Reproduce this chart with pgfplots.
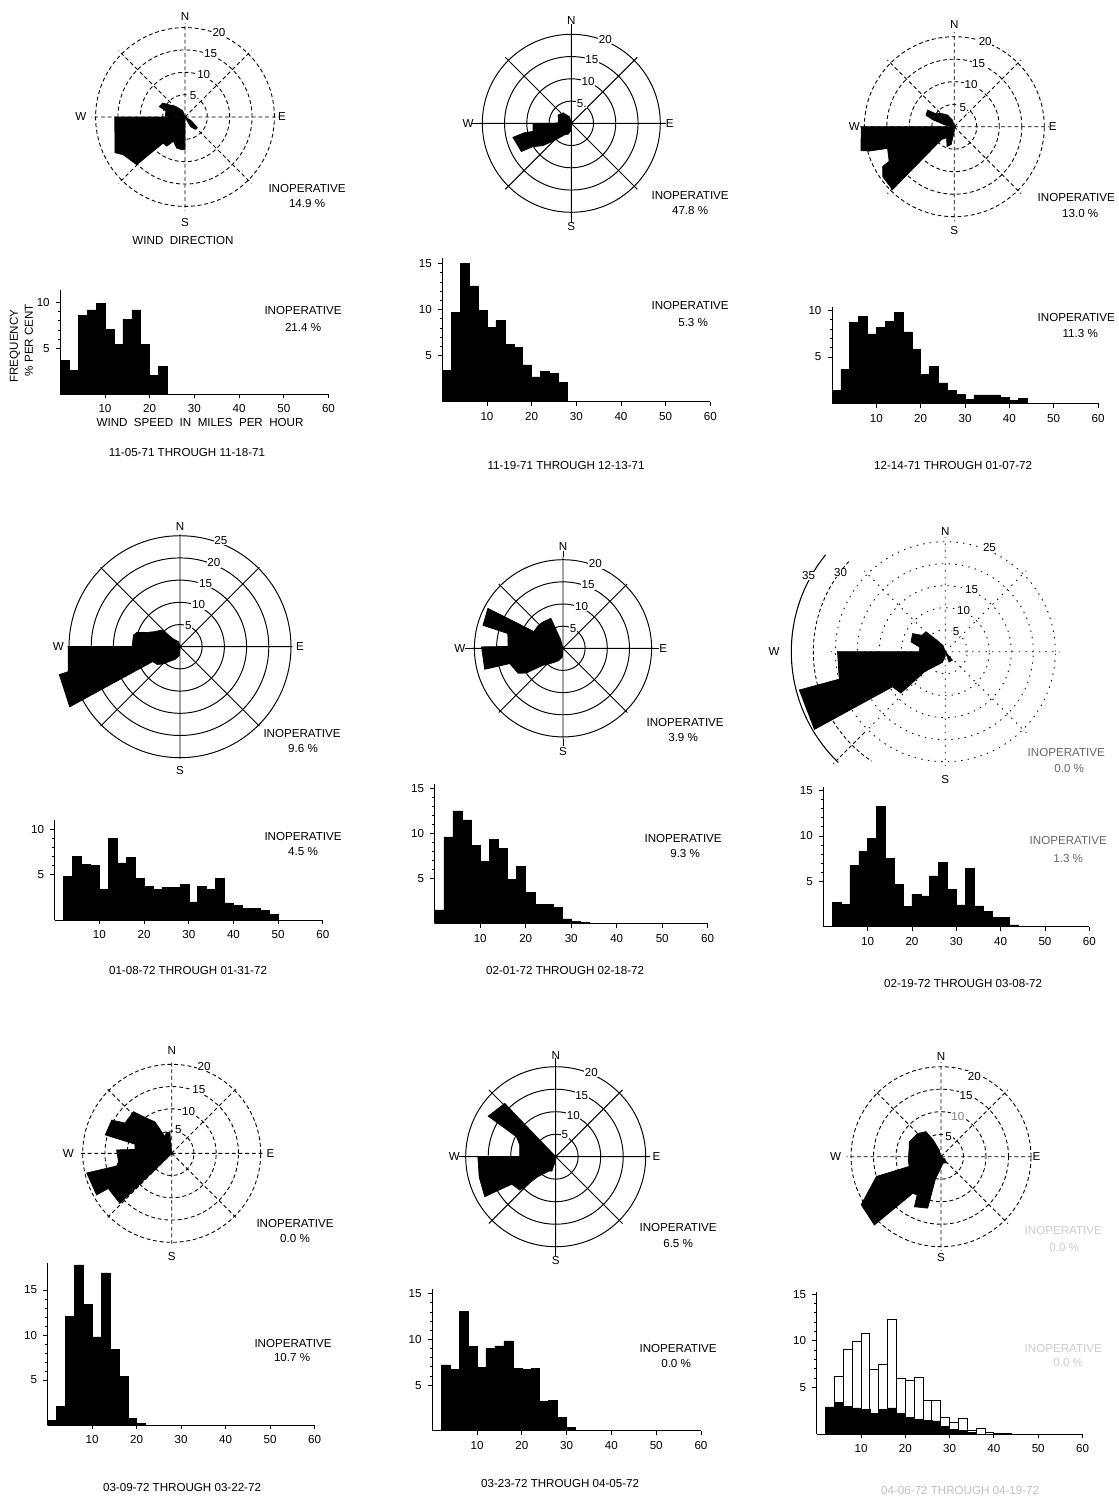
\documentclass[border=0pt]{standalone}
\usepackage{fontspec}
\setmainfont{Liberation Sans}
\usepackage{pgfplots}
\pgfplotsset{compat=1.18}
\usepgfplotslibrary{polar}
\newcommand\tf{\fontsize{6.6}{7.5}\selectfont}
\tikzset{every node/.append style={font=\tf}, rl/.style={fill=white, inner sep=0.4pt}}
\pgfplotsset{
  rose/.style={scale only axis, ymin=0, xtick={0,45,...,315}, xticklabels={}, ytick={5,10,15,20}, yticklabels={},
    axis line style={draw=none}, grid=major, clip=false, anchor=center,
    major tick style={draw=none}, minor tick style={draw=none}, every axis plot/.append style={mark=none}},
  sgrid/.style={major grid style={black, line width=0.55pt}},
  dgrid/.style={major grid style={black, line width=0.5pt, dash pattern=on 2.2pt off 1.6pt}},
  hist/.style={scale only axis, anchor=south west, axis lines=left, axis line style={-, line width=0.55pt},
    xmin=0, xmax=60, ymin=0, xtick={10,20,...,60}, minor y tick num=4, tick align=outside,
    major tick length=2.5pt, minor tick length=1.3pt, tick style={black, line width=0.5pt},
    tick label style={font=\tf}, /pgf/number format/assume math mode=true,
    every axis plot/.append style={mark=none}},
  hb/.style={ybar interval, fill=black, draw=black, line width=0.3pt},
}
\begin{document}
\begin{tikzpicture}
\path[use as bounding box] (0,0) rectangle (22.38,-29.96);

% ================= PANEL 1 =================
\begin{polaraxis}[rose, dgrid, at={(3.70cm,-2.34cm)}, width=3.755cm, height=3.755cm, ymax=21]
\addplot[fill=black, draw=black] coordinates {(0,0) (180,15.7) (207,17.6) (211.4,16.2) (224.6,15.2) (230.2,7.6) (238,7.7) (244.4,6.0) (255,7.2) (264.2,7.35) (270,7.3) (0,0)};
\addplot[fill=black, draw=black] coordinates {(0,0) (178,4.4) (162,4.5) (158,6.2) (148,5.9) (144,4.8) (130,3.0) (110,1.5) (0,0)};
\addplot[fill=black, draw=black] coordinates {(0,0) (300,2.5) (310,3.6) (320,3.6) (330,1.5) (0,0)};
\node at (axis cs:90,22.4) {N}; \node at (axis cs:0,21.7) {E};
\node at (axis cs:180,23.3) {W}; \node at (axis cs:270,23.5) {S};
\node[rl] at (axis cs:66,5.3) {5.}; \node[rl] at (axis cs:66,10.3) {10};
\node[rl] at (axis cs:68,15.3) {15}; \node[rl] at (axis cs:68,20.3) {20};
\end{polaraxis}
\begin{axis}[hist, at={(1.206cm,-7.88cm)}, width=5.364cm, height=2.084cm, ymax=11.4, ytick={5,10}]
\addplot[hb] coordinates {(0,3.65) (2,2.55) (4,8.6) (6,9.2) (8,9.9) (10,7.1) (12,5.4) (14,8.2) (16,9.2) (18,5.4) (20,2.0) (22,3.0) (24,0)};
\end{axis}

% ================= PANEL 2 =================
\begin{polaraxis}[rose, sgrid, at={(11.426cm,-2.466cm)}, width=3.738cm, height=3.738cm, ymax=21]
\addplot[fill=black, draw=black] coordinates {(0,0) (105,1.5) (128,3.0) (148,3.5) (165,3) (179,3) (180,8.6) (182.5,8.6) (192,8.8) (191.3,10.7) (193.5,13.5) (209.5,12.9) (211.3,10.1) (218,8.2) (225,5.5) (240,3) (255,2.5) (270,1.5) (0,0)};
\draw[line width=0.55pt] (axis cs:90,21) -- (axis cs:90,22.3); \draw[line width=0.55pt] (axis cs:270,21) -- (axis cs:270,22.3);
\draw[line width=0.55pt] (axis cs:0,21) -- (axis cs:0,21.2); \draw[line width=0.55pt] (axis cs:180,21) -- (axis cs:180,22.3);
\node at (axis cs:90,23.2) {N}; \node at (axis cs:0,22.1) {E};
\node at (axis cs:180,23.2) {W}; \node at (axis cs:270,23.2) {S};
\node[rl] at (axis cs:62,5.0) {5.}; \node[rl] at (axis cs:68,10.1) {10};
\node[rl] at (axis cs:72,15) {15}; \node[rl] at (axis cs:68,20.4) {20};
\end{polaraxis}
\begin{axis}[hist, at={(8.846cm,-8.034cm)}, width=5.36cm, height=2.87cm, ymax=15.6, ytick={5,10,15}]
\addplot[hb] coordinates {(0,3.4) (2,9.7) (4,15.0) (6,12.6) (8,9.9) (10,8.1) (12,8.8) (14,6.2) (16,5.9) (18,4.0) (20,2.7) (22,3.3) (24,3.1) (26,2.1) (28,0)};
\end{axis}

% ================= PANEL 3 =================
\begin{polaraxis}[rose, dgrid, at={(19.086cm,-2.534cm)}, width=3.78cm, height=3.78cm, ymax=21]
\addplot[fill=black, draw=black] coordinates {(0,0) (180,20.7) (194.4,21.4) (196,19.6) (198,15.6) (208,16.4) (209,18.2) (215,19.4) (225.5,19.6) (225,4) (235,3) (250,4.7) (260,4) (270,1) (0,0)};
\addplot[fill=black, draw=black] coordinates {(0,0) (170,2) (162,5) (158,6.8) (148,7.0) (145,5) (135,4.2) (120,3) (105,1.5) (0,0)};
\node at (axis cs:90,22.8) {N}; \node at (axis cs:0,21.9) {E};
\node at (axis cs:180,22.2) {W}; \node at (axis cs:270,23) {S};
\node[rl] at (axis cs:62,4.8) {5.}; \node[rl] at (axis cs:68,10) {10};
\node[rl] at (axis cs:69,15.1) {15}; \node[rl] at (axis cs:70,20.1) {20};
\end{polaraxis}
\begin{axis}[hist, at={(16.64cm,-8.066cm)}, width=5.32cm, height=1.928cm, ymax=10.4, ytick={5,10}]
\addplot[hb] coordinates {(0,1.4) (2,3.7) (4,8.7) (6,9.35) (8,7.5) (10,8.2) (12,8.8) (14,9.8) (16,7.7) (18,5.8) (20,3.1) (22,4.0) (24,2.2) (26,1.4) (28,1.0) (30,0.4) (32,0.9) (34,0.9) (36,0.9) (38,0.65) (40,0.3) (42,0.55) (44,0)};
\end{axis}

% ================= PANEL 4 =================
\begin{polaraxis}[rose, sgrid, at={(3.60cm,-12.934cm)}, width=4.493cm, height=4.493cm, ymax=25.3, ytick={5,10,15,20,25}]
\addplot[fill=black, draw=black] coordinates {(0,0) (105,1.2) (130,2.2) (138,5.6) (149,6.6) (157,8.2) (162,10.3) (166,10.8) (180,10.8) (180,25.2) (192.6,25.8) (193,27.9) (208.6,28.3) (208.6,7) (218,6.5) (225,5.5) (235,4) (250,3) (265,2) (0,0)};
\node at (axis cs:90,27) {N}; \node at (axis cs:0,27) {E};
\node at (axis cs:180,27.4) {W}; \node at (axis cs:270,27.8) {S};
\node[rl] at (axis cs:69,5.2) {5}; \node[rl] at (axis cs:66,10.3) {10};
\node[rl] at (axis cs:68,15.4) {15}; \node[rl] at (axis cs:68,20.4) {20}; \node[rl] at (axis cs:69,25.7) {25};
\end{polaraxis}
\begin{axis}[hist, at={(1.094cm,-18.40cm)}, width=5.364cm, height=1.995cm, ymax=11, ytick={5,10}]
\addplot[hb] coordinates {(2,4.85) (4,7.0) (6,6.1) (8,6.0) (10,3.4) (12,9.0) (14,6.3) (16,6.9) (18,4.6) (20,3.7) (22,3.4) (24,3.6) (26,3.6) (28,3.9) (30,2.0) (32,3.7) (34,3.4) (36,4.6) (38,1.9) (40,1.65) (42,1.3) (44,1.3) (46,1.1) (48,0.6) (50,0)};
\end{axis}

% ================= PANEL 5 =================
\begin{polaraxis}[rose, sgrid, at={(11.26cm,-12.966cm)}, width=3.633cm, height=3.633cm, ymax=20.5]
\addplot[fill=black, draw=black] coordinates {(0,0) (105,2) (112,7.3) (128,7.5) (138,7.6) (150,7.6) (152,19.2) (164,18.8) (165,12.9) (178,12.4) (179,18.4) (195,18.3) (196,12.5) (209,11.6) (214,10) (220,6) (235,4) (250,3) (265,2) (0,0)};
\draw[line width=0.55pt] (axis cs:90,20.5) -- (axis cs:90,22); \draw[line width=0.55pt] (axis cs:270,20.5) -- (axis cs:270,22);
\draw[line width=0.55pt] (axis cs:0,20.5) -- (axis cs:0,21.6); \draw[line width=0.55pt] (axis cs:180,20.5) -- (axis cs:180,22.2);
\node at (axis cs:90,22.9) {N}; \node at (axis cs:0,22.6) {E};
\node at (axis cs:180,23.3) {W}; \node at (axis cs:270,23.3) {S};
\node[rl] at (axis cs:63,5.0) {5}; \node[rl] at (axis cs:66,10.3) {10};
\node[rl] at (axis cs:68.5,15.4) {15}; \node[rl] at (axis cs:69,20.4) {20};
\end{polaraxis}
\begin{axis}[hist, at={(8.694cm,-18.466cm)}, width=5.46cm, height=2.79cm, ymax=15.5, ytick={5,10,15}]
\addplot[hb] coordinates {(0,1.5) (2,9.6) (4,12.5) (6,11.5) (8,8.7) (10,6.9) (12,9.3) (14,8.3) (16,4.9) (18,6.3) (20,3.4) (22,2.1) (24,2.1) (26,1.8) (28,0.5) (30,0.2) (32,0.1) (34,0)};
\end{axis}

% ================= PANEL 6 =================
\begin{polaraxis}[rose, major grid style={black, line width=0.5pt, dash pattern=on 0.8pt off 3pt}, at={(18.906cm,-13.034cm)}, width=4.576cm, height=4.576cm, ymax=26, ytick={5,10,...,25}]
\addplot[fill=black, draw=black] coordinates {(0,0) (110,1.5) (125,3) (134,6.3) (145,6.5) (151,8.5) (164,8.1) (170,5.9) (180,5.9) (180,24.5) (194.5,24.9) (194.7,34.3) (210.7,34.6) (213.6,14.4) (223,13.8) (224,6.5) (235,4) (255,2.5) (270,1) (0,0)};
\addplot[fill=black, draw=black] coordinates {(0,0) (290,2.5) (310,2.5) (0,0)};
\draw[line width=0.6pt] (axis cs:141,35) arc[start angle=141, end angle=226, radius=3.08cm];
\draw[line width=0.5pt, dash pattern=on 2pt off 1.5pt] (axis cs:137,30) arc[start angle=137, end angle=236, radius=2.64cm];
\draw[line width=0.5pt, dash pattern=on 2pt off 1.5pt] (axis cs:225,26) -- (axis cs:225,36);
\node at (axis cs:90,27.3) {N};
\node at (axis cs:180,38.9) {W}; \node at (axis cs:270,29) {S};
\node[rl] at (axis cs:62,5.2) {5}; \node[rl] at (axis cs:66,10.2) {10};
\node[rl] at (axis cs:67,15.3) {15}; \node[rl] at (axis cs:67,25.7) {25};
\node[rl, inner sep=0pt] at (axis cs:143,29.8) {30}; \node[rl, inner sep=0pt] at (axis cs:151,35.5) {35};
\end{polaraxis}
\begin{axis}[hist, at={(16.466cm,-18.534cm)}, width=5.32cm, height=2.794cm, ymax=15.4, ytick={5,10,15}]
\addplot[hb] coordinates {(2,2.65) (4,2.5) (6,6.8) (8,8.3) (10,9.75) (12,13.3) (14,7.5) (16,4.7) (18,2.2) (20,3.6) (22,3.4) (24,5.6) (26,7.1) (28,4.1) (30,2.4) (32,6.4) (34,2.3) (36,1.65) (38,1.0) (40,1.0) (42,0.2) (44,0)};
\end{axis}

% ================= PANEL 7 =================
\begin{polaraxis}[rose, dgrid, at={(3.434cm,-23.066cm)}, width=3.738cm, height=3.738cm, ymax=21]
\addplot[fill=black, draw=black] coordinates {(0,0) (95,4.8) (105,4.8) (112,4) (118,8.0) (125.5,9.7) (132.6,12.7) (147,12.5) (151,15.4) (164.5,15.5) (165,12.1) (166,8.5) (174,8.3) (176.5,12.4) (189,12.1) (193,12.7) (193,19.6) (209,19.3) (209,16.3) (224,16.2) (225,2) (0,0)};
\node at (axis cs:90,23.1) {N}; \node at (axis cs:0,22.2) {E};
\node at (axis cs:180,23.2) {W}; \node at (axis cs:270,23.2) {S};
\node[rl] at (axis cs:74,5.5) {5}; \node[rl] at (axis cs:68,10.1) {10};
\node[rl] at (axis cs:67,15.6) {15}; \node[rl] at (axis cs:69.5,20.8) {20};
\end{polaraxis}
\begin{axis}[hist, at={(0.954cm,-28.50cm)}, width=5.34cm, height=3.24cm, ymax=18, ytick={5,10,15}]
\addplot[hb] coordinates {(0,0.55) (2,2.1) (4,12.1) (6,17.8) (8,13.4) (10,9.8) (12,16.9) (14,8.4) (16,5.4) (18,0.75) (20,0.2) (22,0)};
\end{axis}

% ================= PANEL 8 =================
\begin{polaraxis}[rose, sgrid, at={(11.114cm,-23.134cm)}, width=3.78cm, height=3.78cm, ymax=21]
\addplot[fill=black, draw=black] coordinates {(0,0) (133.7,16.4) (149,17.5) (153,9.8) (162,8.4) (180,8.0) (180,17.3) (195,17.6) (209.4,18.1) (212,11.5) (223,10.9) (228,6) (245,3.5) (255,3.3) (265,1) (0,0)};
\draw[line width=0.55pt] (axis cs:90,21) -- (axis cs:90,22); \draw[line width=0.55pt] (axis cs:270,21) -- (axis cs:270,22);
\draw[line width=0.55pt] (axis cs:180,21) -- (axis cs:180,21.5);
\node at (axis cs:90,22.5) {N}; \node at (axis cs:0,22.4) {E};
\node at (axis cs:180,22.5) {W}; \node at (axis cs:270,23) {S};
\node[rl] at (axis cs:68,5.4) {5}; \node[rl] at (axis cs:67,10) {10};
\node[rl] at (axis cs:67,14.8) {15}; \node[rl] at (axis cs:67,20.3) {20};
\end{polaraxis}
\begin{axis}[hist, at={(8.644cm,-28.614cm)}, width=5.376cm, height=2.83cm, ymax=15.5, ytick={5,10,15}]
\addplot[hb] coordinates {(2,7.2) (4,6.7) (6,13.1) (8,9.2) (10,6.9) (12,9.0) (14,9.3) (16,9.85) (18,6.8) (20,6.7) (22,6.8) (24,3.2) (26,3.3) (28,1.5) (30,0.35) (32,0)};
\end{axis}

% ================= PANEL 9 =================
\begin{polaraxis}[rose, dgrid, at={(18.82cm,-23.134cm)}, width=3.78cm, height=3.78cm, ymax=21]
\addplot[fill=black, draw=black] coordinates {(0,0) (105,1.5) (115,4.1) (121,6.5) (135,7.3) (150,7.6) (155,7.8) (162.5,7.4) (175,7.2) (185,7.3) (197,7.4) (197,15.0) (211,20.7) (225.7,21.2) (232.3,10.3) (238,10) (242,12.6) (255.5,11.8) (256,5) (265,3) (275,2) (290,1.5) (310,1.8) (330,1) (0,0)};
\node at (axis cs:90,22.3) {N}; \node at (axis cs:0,21.2) {E};
\node at (axis cs:180,23.4) {W}; \node at (axis cs:270,22.3) {S};
\node[rl] at (axis cs:69,4.7) {5}; \node[rl, text=gray] at (axis cs:67,9.6) {10};
\node[rl] at (axis cs:67.6,14.6) {15}; \node[rl] at (axis cs:67.5,19.4) {20};
\end{polaraxis}
\begin{axis}[hist, at={(16.334cm,-28.68cm)}, width=5.316cm, height=2.836cm, ymax=15.2, ytick={5,10,15}]
\addplot[ybar interval, fill=white, draw=black, line width=0.5pt] coordinates {(2,2.9) (4,6.2) (6,9.1) (8,9.9) (10,10.8) (12,6.9) (14,7.5) (16,12.3) (18,6.0) (20,5.7) (22,6.1) (24,3.6) (26,3.6) (28,1.8) (30,1.25) (32,1.7) (34,0.35) (36,0.6) (38,0.15) (40,0.1) (42,0.1) (44,0)};
\addplot[hb] coordinates {(2,2.9) (4,3.4) (6,3.0) (8,2.8) (10,2.6) (12,2.2) (14,2.6) (16,2.8) (18,2.2) (20,1.8) (22,1.6) (24,1.5) (26,1.4) (28,0.8) (30,0.5) (32,0.4) (34,0.2) (36,0)};
\end{axis}

% ================= TEXT =================
\begin{scope}[x=0.02cm, y=-0.02cm]
\node at (183,240) {WIND\ \ DIRECTION};
\node at (200,422) {WIND\ \ SPEED\ \ IN\ \ MILES\ \ PER\ \ HOUR};
\node[rotate=90] at (15,346) {FREQUENCY};
\node[rotate=90] at (29,340) {\% PER CENT};
\node at (307,188) {INOPERATIVE}; \node at (307,203) {14.9 \%};
\node at (303,310) {INOPERATIVE}; \node at (303,327) {21.4 \%};
\node at (690,195) {INOPERATIVE}; \node at (690,210) {47.8 \%};
\node at (690,305) {INOPERATIVE}; \node at (693,322) {5.3 \%};
\node at (1076,197) {INOPERATIVE}; \node at (1080,213) {13.0 \%};
\node at (1076,317) {INOPERATIVE}; \node at (1080,333) {11.3 \%};
\node at (302,733) {INOPERATIVE}; \node at (303,748) {9.6 \%};
\node at (303,836) {INOPERATIVE}; \node at (303,851) {4.5 \%};
\node at (685,722) {INOPERATIVE}; \node at (683,737) {3.9 \%};
\node at (683,838) {INOPERATIVE}; \node at (685,853) {9.3 \%};
\node[gray!80!black] at (1066,752) {INOPERATIVE}; \node[gray!80!black] at (1069,768) {0.0 \%};
\node[gray!80!black] at (1068,840) {INOPERATIVE}; \node[gray!80!black] at (1068,858) {1.3 \%};
\node at (295,1223) {INOPERATIVE}; \node at (295,1238) {0.0 \%};
\node at (293,1343) {INOPERATIVE}; \node at (292,1357) {10.7 \%};
\node at (678,1227) {INOPERATIVE}; \node at (678,1243) {6.5 \%};
\node at (678,1348) {INOPERATIVE}; \node at (676,1363) {0.0 \%};
\node[gray!40] at (1063,1230) {INOPERATIVE}; \node[gray!40] at (1064,1247) {0.0 \%};
\node[gray!40] at (1063,1348) {INOPERATIVE}; \node[gray!40] at (1068,1362) {0.0 \%};
\node at (187,452) {11-05-71 THROUGH 11-18-71};
\node at (566,465) {11-19-71 THROUGH 12-13-71};
\node at (953,465) {12-14-71 THROUGH 01-07-72};
\node at (188,970) {01-08-72 THROUGH 01-31-72};
\node at (565,970) {02-01-72 THROUGH 02-18-72};
\node at (963,983) {02-19-72 THROUGH 03-08-72};
\node at (182,1487) {03-09-72 THROUGH 03-22-72};
\node at (560,1483) {03-23-72 THROUGH 04-05-72};
\node[gray!50] at (960,1490) {04-06-72 THROUGH 04-19-72};
\end{scope}
\end{tikzpicture}
\end{document}
